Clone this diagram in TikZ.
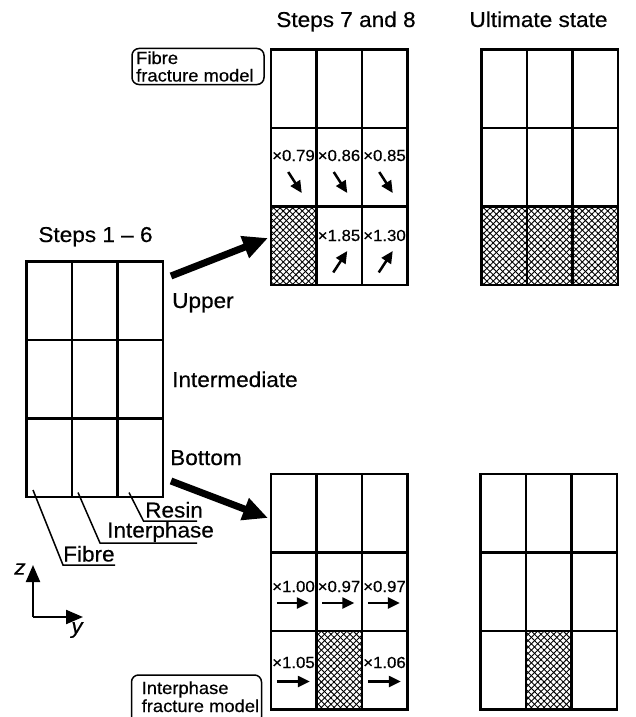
\documentclass[tikz,border=0pt]{standalone}
\usepackage{fontspec}
\setmainfont[FakeStretch=1.05,FakeBold=0.4]{Liberation Sans}
\usetikzlibrary{arrows.meta,patterns.meta}
\tikzset{
  gridline/.style={line width=2.4pt,line cap=rect},
  biglabel/.style={font=\fontsize{21.5}{24}\selectfont,inner sep=0pt},
  cellfactor/.style={font=\fontsize{16}{17}\selectfont,inner sep=0pt,anchor=base},
  leader/.style={line width=1.5pt},
  bigarrow/.style={line width=7pt,-{Triangle[length=25pt,width=22pt]}},
  cellarrow/.style={line width=2.5pt,-{Triangle[length=12pt,width=11pt]}},
  axisarrow/.style={line width=2.2pt,-{Triangle[length=17pt,width=14pt]}},
  modelbox/.style={draw,line width=1.5pt,rounded corners=7pt},
  modeltext/.style={font=\fontsize{17.5}{14}\selectfont,inner sep=0pt,anchor=base west}
}
\newcommand{\hatchcell}[2]{%
  \fill[pattern={Lines[angle=45,distance=4.5pt,line width=0.9pt]}] (#1,#2) rectangle ++(45.5,78.5);
  \fill[pattern={Lines[angle=-45,distance=4.5pt,line width=0.9pt]}] (#1,#2) rectangle ++(45.5,78.5);}
\newcommand{\drawcells}[2]{%
  \draw[gridline] (#1,#2) rectangle ++(136.5,235.5);
  \draw[gridline] (#1+45.5,#2) -- ++(0,235.5);
  \draw[gridline] (#1+91,#2) -- ++(0,235.5);
  \draw[gridline] (#1,#2+78.5) -- ++(136.5,0);
  \draw[gridline] (#1,#2+157) -- ++(136.5,0);}
\begin{document}
\begin{tikzpicture}[x=1pt,y=-1pt]
\useasboundingbox (0,0) rectangle (635,717);
\fill[white] (0,0) rectangle (635,717);

% titles
\node[biglabel,anchor=base] (t78) at (346,27) {Steps 7 and 8};
\node[biglabel,anchor=base] (tult) at (538.5,27) {Ultimate state};
\node[biglabel,anchor=base] (t16) at (95.5,242) {Steps 1 -- 6};

% hatched cells
\hatchcell{271}{206.5}
\hatchcell{481.5}{206.5}
\hatchcell{527}{206.5}
\hatchcell{572.5}{206.5}
\hatchcell{316.5}{631}
\hatchcell{526}{631}

% grids
\drawcells{26.5}{261.5}
\drawcells{271}{49.5}
\drawcells{481.5}{49.5}
\drawcells{271}{474}
\drawcells{480.5}{474}

% layer labels
\node[biglabel,anchor=base west] (upper) at (172,308) {Upper};
\node[biglabel,anchor=base west] (inter) at (172,387) {Intermediate};
\node[biglabel,anchor=base west] (bottom) at (170,465) {Bottom};

% big arrows
\coordinate (ua0) at (171,276);
\coordinate (ua1) at (268,238);
\coordinate (ba0) at (171,481);
\coordinate (ba1) at (268,518);
\draw[bigarrow] (ua0) -- (ua1);
\draw[bigarrow] (ba0) -- (ba1);

% model boxes
\draw[modelbox] (132,48.5) rectangle (264,84.5);
\node[modeltext] (fibremodel1) at (136,64) {Fibre};
\node[modeltext] (fibremodel2) at (136,81.5) {fracture model};
\draw[modelbox] (131.5,675) rectangle (261.5,724);
\node[modeltext] (intermodel1) at (141.5,694) {Interphase};
\node[modeltext] (intermodel2) at (141.5,712) {fracture model};

% factors top grid
\node[cellfactor] (f1) at (293.5,161) {×0.79};
\node[cellfactor] (f2) at (339,161) {×0.86};
\node[cellfactor] (f3) at (384.5,161) {×0.85};
\node[cellfactor] (f4) at (339,241) {×1.85};
\node[cellfactor] (f5) at (384.5,241) {×1.30};
\foreach \cx in {293.75,339.25,384.75}{
  \coordinate (da) at (\cx-5.5,172);
  \coordinate (db) at (\cx+8,193);
  \draw[cellarrow] (da) -- (db);}
\foreach \cx in {339.25,384.75}{
  \coordinate (ua) at (\cx-6,272.5);
  \coordinate (ub) at (\cx+8,251);
  \draw[cellarrow] (ua) -- (ub);}

% factors bottom grid
\node[cellfactor] (g1) at (293.5,592) {×1.00};
\node[cellfactor] (g2) at (339,592) {×0.97};
\node[cellfactor] (g3) at (384.5,592) {×0.97};
\node[cellfactor] (g4) at (293.5,668) {×1.05};
\node[cellfactor] (g5) at (384.5,668) {×1.06};
\foreach \cx in {293.75,339.25,384.75}{
  \coordinate (ha) at (\cx-17,603);
  \coordinate (hb) at (\cx+15,603);
  \draw[cellarrow] (ha) -- (hb);}
\foreach \cx in {293.75,384.75}{
  \coordinate (ha) at (\cx-17,681.5);
  \coordinate (hb) at (\cx+16,681.5);
  \draw[cellarrow] (ha) -- (hb);}

% leaders
\node[biglabel,anchor=base west] (resin) at (145,517.5) {Resin};
\node[biglabel,anchor=base west] (interphase) at (107,537.5) {Interphase};
\node[biglabel,anchor=base west] (fibre) at (63,561.5) {Fibre};
\coordinate (lr0) at (129,492.5);
\coordinate (lr1) at (143.5,521);
\coordinate (lr2) at (197,521);
\coordinate (li0) at (78,492.5);
\coordinate (li1) at (100,543);
\coordinate (li2) at (197,543);
\coordinate (lf0) at (33,490);
\coordinate (lf1) at (63,565);
\coordinate (lf2) at (115,565);
\draw[leader] (lr0) -- (lr1) -- (lr2);
\draw[leader] (li0) -- (li1) -- (li2);
\draw[leader] (lf0) -- (lf1) -- (lf2);

% axes
\coordinate (ax0) at (33,617);
\coordinate (axz) at (33,565);
\coordinate (axy) at (83,617);
\draw[axisarrow] (ax0) -- (axz);
\draw[axisarrow] (ax0) -- (axy);
\node[biglabel,font=\fontsize{21.5}{24}\selectfont\itshape] (zlab) at (20,569) {z};
\node[biglabel,font=\fontsize{21.5}{24}\selectfont\itshape] (ylab) at (77,630) {y};
\end{tikzpicture}
\end{document}
